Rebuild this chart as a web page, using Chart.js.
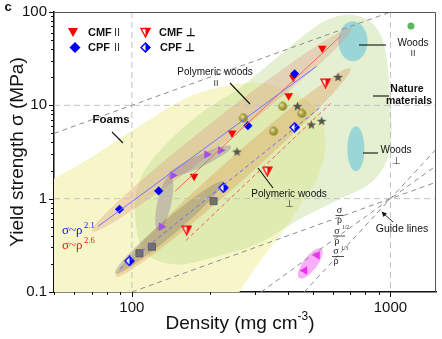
<!DOCTYPE html>
<html>
<head>
<meta charset="utf-8">
<script src="https://cdn.jsdelivr.net/npm/chart.js@4.4.0/dist/chart.umd.min.js"></script>
<style>
  html, body { margin: 0; padding: 0; background: #fff; }
</style>
</head>
<body>
<canvas id="chart" width="442" height="339"></canvas>
<script>
const SANS = 'Arial, "Liberation Sans", sans-serif';
const SERIF = '"Times New Roman", "Liberation Serif", serif';

// axis ticks that carry a label
let xTickLabels = [100, 1000];
let yTickLabels = [0.1, 1, 10, 100];

// density (mg cm-3) and yield strength (MPa)
let cmfParDensity = [174, 244, 404, 421, 545];
let cmfParStrength = [1.74, 5.06, 12.7, 19.9, 41];
let cpfParDensity = [89.6, 127, 281, 426];
let cpfParStrength = [0.77, 1.21, 6.06, 21.8];
let cmfPerpDensity = [163, 334, 561];
let cmfPerpStrength = [0.46, 1.97, 17.3];
let cpfPerpDensity = [97.9, 226, 426];
let cpfPerpStrength = [0.215, 1.31, 5.82];
let purpleDensity = [130, 144, 195, 220];
let purpleStrength = [0.5, 1.77, 2.97, 3.3];
let squareDensity = [107, 119.6, 207];
let squareStrength = [0.26, 0.305, 0.94];
let sphereDensity = [270, 353, 383, 454];
let sphereStrength = [7.3, 5.27, 9.75, 8.2];
let starDensity = [255, 437, 494, 542, 627];
let starStrength = [3.16, 9.7, 6.15, 6.74, 19.9];
let woodDensity = [1200];
let woodStrength = [71];
let magentaDensity = [466, 521];
let magentaStrength = [0.17, 0.247];

// fitted trends
let fitCpfParDensity = [74, 518];
let fitCpfParStrength = [0.505, 26.2];
let fitCmfParDensity = [147, 641];
let fitCmfParStrength = [1.2, 55];
let fitCpfPerpDensity = [90, 530];
let fitCpfPerpStrength = [0.178, 9.3];
let fitCmfPerpDensity = [162, 587];
let fitCmfPerpStrength = [0.357, 10.5];

// guide lines (sigma/rho, sigma^1/2/rho, sigma^1/3/rho and the upper one)
let guideDensity = [[50, 1000], [100, 1500], [316, 1500], [464, 1500]];
let guideStrength = [[5, 100], [0.1, 1.5], [0.1, 2.25], [0.1, 3.375]];

// material families, outlines
let foamsDensity = [30.6, 49.5, 70.8, 99.4, 162, 238, 317, 425, 517, 560, 526, 465, 399, 317, 260, 218, 74.7, 30.6];
let foamsStrength = [0.77, 1.61, 2.84, 5.26, 11.9, 16.4, 17.2, 13.4, 9.06, 4.11, 1.73, 1.01, 0.518, 0.223, 0.099, 0.038, 0.0068, 0.023];
let natureDensity = [145.8, 111.6, 103, 106.7, 127.5, 182.2, 260, 365, 555, 759, 931, 1000, 991, 851, 635, 445, 303, 199];
let natureStrength = [0.198, 0.272, 0.645, 1.53, 3.21, 8.01, 15.2, 32.7, 79.4, 89.9, 51, 11.0, 3.21, 1.53, 0.983, 0.6, 0.324, 0.229];

// ellipses: centre, tip of long axis, tip of short axis
let woodsParEllipse = [[716, 48.5], [716, 79.4], [815, 48.5]];
let woodsPerpEllipse = [[735, 3.42], [735, 5.96], [793, 3.42]];
let magentaEllipse = [[490, 0.2025], [541, 0.29], [515, 0.1826]];
let parBand = [[222.7, 5.46], [706, 66.8], [238, 4.33]];
let perpBand = [[246.6, 1.913], [700, 24.9], [265, 1.532]];
let greyBand = [[139.4, 0.4925], [225.7, 1.532], [146, 0.4236]];
let purpleStem = [[133.4, 0.89], [140.7, 1.734], [141.7, 0.858]];
let purpleArm = [[182.2, 2.51], [242.3, 3.64], [186.5, 2.2]];

function pts(xs, ys) {
    return xs.map((x, i) => ({ x: x, y: ys[i] }));
}

function icon(size, draw) {
    let c = document.createElement('canvas');
    c.width = size;
    c.height = size;
    draw(c.getContext('2d'), size);
    return c;
}

const cmfPerpIcon = icon(11, (g, s) => {
    g.beginPath();
    g.moveTo(1, 1.5); g.lineTo(s - 1, 1.5); g.lineTo(s / 2, s - 1); g.closePath();
    g.fillStyle = '#fff'; g.fill();
    g.save(); g.clip(); g.fillStyle = '#ff0000'; g.fillRect(s / 2, 0, s / 2, s); g.restore();
    g.strokeStyle = '#ff0000'; g.lineWidth = 1.3; g.stroke();
});
const cpfPerpIcon = icon(11, (g, s) => {
    let m = s / 2, r = s / 2 - 1;
    g.beginPath();
    g.moveTo(m, m - r); g.lineTo(m + r, m); g.lineTo(m, m + r); g.lineTo(m - r, m); g.closePath();
    g.fillStyle = '#fff'; g.fill();
    g.save(); g.clip(); g.fillStyle = '#0000ff'; g.fillRect(m, 0, m, s); g.restore();
    g.strokeStyle = '#0000ff'; g.lineWidth = 1.4; g.stroke();
});
const starIcon = icon(11, (g, s) => {
    let m = s / 2, R = s / 2 - 0.5, r = R * 0.42;
    g.beginPath();
    for (let k = 0; k < 10; k++) {
        let ang = -Math.PI / 2 + k * Math.PI / 5;
        let rr = k % 2 ? r : R;
        g.lineTo(m + rr * Math.cos(ang), m + rr * Math.sin(ang));
    }
    g.closePath();
    g.fillStyle = '#55554a'; g.fill();
});
const sphereIcon = icon(10, (g, s) => {
    let grad = g.createRadialGradient(3.6, 3.4, 0.5, 5, 5, 5);
    grad.addColorStop(0, '#e4e0a6');
    grad.addColorStop(0.45, '#aba43e');
    grad.addColorStop(1, '#7d7722');
    g.beginPath(); g.arc(5, 5, 4.4, 0, Math.PI * 2);
    g.fillStyle = grad; g.fill();
});

function px(chart, p) {
    return [chart.scales.x.getPixelForValue(p[0]), chart.scales.y.getPixelForValue(p[1])];
}

function fillOutline(chart, xs, ys, color) {
    let ctx = chart.ctx;
    let p = xs.map((x, i) => px(chart, [x, ys[i]]));
    let n = p.length;
    ctx.beginPath();
    ctx.moveTo(p[0][0], p[0][1]);
    for (let i = 0; i < n; i++) {
        let p0 = p[(i - 1 + n) % n], p1 = p[i], p2 = p[(i + 1) % n], p3 = p[(i + 2) % n];
        ctx.bezierCurveTo(p1[0] + (p2[0] - p0[0]) / 6, p1[1] + (p2[1] - p0[1]) / 6,
                          p2[0] - (p3[0] - p1[0]) / 6, p2[1] - (p3[1] - p1[1]) / 6, p2[0], p2[1]);
    }
    ctx.closePath();
    ctx.fillStyle = color;
    ctx.fill();
}

function fillEllipse(chart, e, color) {
    let ctx = chart.ctx;
    let c = px(chart, e[0]), a = px(chart, e[1]), b = px(chart, e[2]);
    ctx.save();
    ctx.beginPath();
    ctx.transform(a[0] - c[0], a[1] - c[1], b[0] - c[0], b[1] - c[1], c[0], c[1]);
    ctx.arc(0, 0, 1, 0, Math.PI * 2);
    ctx.restore();
    ctx.fillStyle = color;
    ctx.fill();
}

function text(ctx, str, x, y, font, align, color) {
    ctx.font = font;
    ctx.textAlign = align || 'center';
    ctx.textBaseline = 'middle';
    ctx.fillStyle = color || '#111';
    ctx.fillText(str, x, y);
}

function line(ctx, x1, y1, x2, y2) {
    ctx.beginPath();
    ctx.moveTo(x1, y1);
    ctx.lineTo(x2, y2);
    ctx.stroke();
}

function frac(ctx, x, y, sup) {
    text(ctx, 'σ', x, y - 5, '10px ' + SERIF, 'center', '#222');
    if (sup) text(ctx, sup, x + 5, y - 8, '5.5px ' + SERIF, 'left', '#222');
    ctx.strokeStyle = '#222';
    ctx.lineWidth = 0.8;
    line(ctx, x - 4, y, x + (sup ? 8 : 4), y);
    text(ctx, 'ρ', x, y + 5, '10px ' + SERIF, 'center', '#222');
}

function isNice(v) {
    let s = v / Math.pow(10, Math.floor(Math.log10(v) + 1e-9));
    return Math.abs(s - Math.round(s)) < 1e-6;
}

const backdrop = {
    id: 'backdrop',
    beforeDatasetsDraw(chart) {
        let ctx = chart.ctx, a = chart.chartArea;
        ctx.save();
        ctx.beginPath();
        ctx.rect(a.left, a.top, a.right - a.left, a.bottom - a.top);
        ctx.clip();
        fillOutline(chart, foamsDensity, foamsStrength, '#f7f6c8');
        fillOutline(chart, natureDensity, natureStrength, 'rgba(190,220,145,0.42)');
        fillEllipse(chart, woodsParEllipse, 'rgba(135,208,215,0.8)');
        fillEllipse(chart, woodsPerpEllipse, 'rgba(135,208,215,0.8)');
        fillEllipse(chart, parBand, 'rgba(225,140,120,0.3)');
        fillEllipse(chart, perpBand, 'rgba(225,145,80,0.33)');
        fillEllipse(chart, greyBand, 'rgba(110,110,110,0.3)');
        fillEllipse(chart, purpleStem, 'rgba(140,105,150,0.35)');
        fillEllipse(chart, purpleArm, 'rgba(140,105,150,0.35)');
        fillEllipse(chart, magentaEllipse, 'rgba(245,120,245,0.6)');

        // dashed reference grid
        ctx.strokeStyle = '#c2c2c2';
        ctx.lineWidth = 1;
        ctx.setLineDash([6, 4]);
        xTickLabels.forEach(v => {
            let x = chart.scales.x.getPixelForValue(v);
            line(ctx, x, a.top, x, a.bottom);
        });
        yTickLabels.forEach(v => {
            let y = chart.scales.y.getPixelForValue(v);
            if (y > a.top + 1 && y < a.bottom - 1) line(ctx, a.left, y, a.right, y);
        });
        ctx.restore();
    },
    afterDraw(chart) {
        let ctx = chart.ctx, a = chart.chartArea;
        let sx = chart.scales.x, sy = chart.scales.y;
        ctx.save();

        // top and right frame
        ctx.strokeStyle = '#555';
        ctx.lineWidth = 1;
        ctx.beginPath();
        ctx.moveTo(a.left, a.top + 0.5);
        ctx.lineTo(a.right - 0.5, a.top + 0.5);
        ctx.lineTo(a.right - 0.5, a.bottom);
        ctx.stroke();

        // tick marks, longer at the decades
        ctx.strokeStyle = '#111';
        ctx.lineWidth = 1;
        sx.ticks.forEach(t => {
            if (!isNice(t.value)) return;
            let x = Math.round(sx.getPixelForValue(t.value)) + 0.5;
            let len = xTickLabels.includes(t.value) ? 5 : 3;
            line(ctx, x, a.bottom, x, a.bottom + len);
        });
        sy.ticks.forEach(t => {
            if (!isNice(t.value)) return;
            let y = Math.round(sy.getPixelForValue(t.value)) + 0.5;
            let len = yTickLabels.includes(t.value) ? 5 : 3;
            line(ctx, a.left, y, a.left - len, y);
        });

        // axis titles
        ctx.save();
        ctx.translate(18, (a.top + a.bottom) / 2);
        ctx.rotate(-Math.PI / 2);
        text(ctx, 'Yield strength σ (MPa)', 0, 0, '19px ' + SANS, 'center', '#111');
        ctx.restore();
        ctx.font = '19px ' + SANS;
        let w1 = ctx.measureText('Density (mg cm').width;
        ctx.font = '12px ' + SANS;
        let w2 = ctx.measureText('-3').width;
        ctx.font = '19px ' + SANS;
        let w3 = ctx.measureText(')').width;
        let x0 = 240 - (w1 + w2 + w3) / 2;
        text(ctx, 'Density (mg cm', x0, 324, '19px ' + SANS, 'left', '#111');
        text(ctx, '-3', x0 + w1, 317, '12px ' + SANS, 'left', '#111');
        text(ctx, ')', x0 + w1 + w2, 324, '19px ' + SANS, 'left', '#111');

        text(ctx, 'c', 8, 7, 'bold 13px ' + SANS, 'center', '#111');

        // legend
        ctx.fillStyle = '#ff0000';
        ctx.beginPath();
        ctx.moveTo(68, 28); ctx.lineTo(78, 28); ctx.lineTo(73, 37); ctx.closePath(); ctx.fill();
        ctx.fillStyle = '#0000ff';
        ctx.beginPath();
        ctx.moveTo(75, 42); ctx.lineTo(80.5, 47.5); ctx.lineTo(75, 53); ctx.lineTo(69.5, 47.5); ctx.closePath(); ctx.fill();
        ctx.drawImage(cmfPerpIcon, 140, 27);
        ctx.drawImage(cpfPerpIcon, 140, 42);
        text(ctx, 'CMF', 88, 33, 'bold 11px ' + SANS, 'left', '#111');
        text(ctx, 'II', 114, 33, '11px ' + SANS, 'left', '#333');
        text(ctx, 'CPF', 88, 48, 'bold 11px ' + SANS, 'left', '#111');
        text(ctx, 'II', 114, 48, '11px ' + SANS, 'left', '#333');
        text(ctx, 'CMF ⊥', 159, 33, 'bold 11px ' + SANS, 'left', '#111');
        text(ctx, 'CPF ⊥', 160, 48, 'bold 11px ' + SANS, 'left', '#111');

        // family labels and leaders
        ctx.strokeStyle = '#111';
        ctx.lineWidth = 1.1;
        text(ctx, 'Foams', 111, 120, 'bold 11.5px ' + SANS);
        line(ctx, 112, 132, 123, 143);
        text(ctx, 'Polymeric woods', 215, 72.5, '10px ' + SANS);
        text(ctx, 'II', 216, 84, '9px ' + SANS, 'center', '#333');
        line(ctx, 230, 83, 250, 104);
        text(ctx, 'Polymeric woods', 289, 194, '10px ' + SANS);
        text(ctx, '⊥', 289, 204, '10px ' + SANS, 'center', '#333');
        line(ctx, 258, 168, 273, 188);
        text(ctx, 'Woods', 413, 43, '10px ' + SANS);
        text(ctx, 'II', 413, 54, '9px ' + SANS, 'center', '#333');
        line(ctx, 359, 45, 386, 45);
        text(ctx, 'Nature', 407, 89, 'bold 10.5px ' + SANS);
        text(ctx, 'materials', 409, 101, 'bold 10.5px ' + SANS);
        line(ctx, 373, 96, 389, 96);
        text(ctx, 'Woods', 396, 150, '10px ' + SANS);
        text(ctx, '⊥', 396, 161, '10px ' + SANS, 'center', '#333');
        line(ctx, 363, 153, 378, 153);
        text(ctx, 'Guide lines', 402, 229, '10.5px ' + SANS);
        ctx.lineWidth = 0.9;
        line(ctx, 393, 222, 383, 213);
        ctx.fillStyle = '#111';
        ctx.beginPath();
        ctx.moveTo(381.5, 211.5); ctx.lineTo(387, 213.5); ctx.lineTo(383.5, 217); ctx.closePath(); ctx.fill();

        // guide line fractions
        frac(ctx, 339.5, 215.5, '');
        frac(ctx, 337, 236, '1/2');
        frac(ctx, 336, 256.5, '1/3');

        // scaling laws
        text(ctx, 'σ~ρ', 62, 231, '13px ' + SERIF, 'left', '#1010ff');
        text(ctx, '2.1', 84, 226, '8.5px ' + SERIF, 'left', '#1010ff');
        text(ctx, 'σ~ρ', 62, 246, '13px ' + SERIF, 'left', '#ff1010');
        text(ctx, '2.6', 84, 241, '8.5px ' + SERIF, 'left', '#ff1010');

        ctx.restore();
    }
};

function guideSet(i) {
    return {
        data: pts(guideDensity[i], guideStrength[i]),
        showLine: true,
        borderColor: '#8c8c8c',
        borderWidth: 1,
        borderDash: [5, 4],
        pointRadius: 0
    };
}

function fitSet(xs, ys, color, dash) {
    return {
        data: pts(xs, ys),
        showLine: true,
        borderColor: color,
        borderWidth: 1,
        borderDash: dash || [],
        pointRadius: 0
    };
}

function markerSet(xs, ys, style, color, radius, rotation) {
    return {
        data: pts(xs, ys),
        pointStyle: style,
        pointRadius: radius,
        pointRotation: rotation || 0,
        pointBackgroundColor: color,
        pointBorderColor: color,
        pointBorderWidth: 0,
        showLine: false
    };
}

let ctx = document.getElementById('chart').getContext('2d');

let chart = new Chart(ctx, {
    type: 'scatter',
    data: {
        datasets: [
            guideSet(0), guideSet(1), guideSet(2), guideSet(3),
            fitSet(fitCpfParDensity, fitCpfParStrength, '#7474ff'),
            fitSet(fitCmfParDensity, fitCmfParStrength, '#ff6464'),
            fitSet(fitCpfPerpDensity, fitCpfPerpStrength, '#6c6cff', [4, 3]),
            fitSet(fitCmfPerpDensity, fitCmfPerpStrength, '#ff5a5a', [4, 3]),
            markerSet(sphereDensity, sphereStrength, sphereIcon, '#a29c36', 4),
            markerSet(starDensity, starStrength, starIcon, '#55554a', 5),
            Object.assign(markerSet(squareDensity, squareStrength, 'rect', '#707070', 5), { pointBorderColor: '#555', pointBorderWidth: 0.8 }),
            markerSet(purpleDensity, purpleStrength, 'triangle', '#a050e6', 5, 90),
            markerSet(magentaDensity, magentaStrength, 'triangle', '#ee30ee', 5, 270),
            markerSet(woodDensity, woodStrength, 'circle', '#5cb85c', 3.5),
            markerSet(cpfPerpDensity, cpfPerpStrength, cpfPerpIcon, '#0000ff', 5),
            markerSet(cmfPerpDensity, cmfPerpStrength, cmfPerpIcon, '#ff0000', 5),
            markerSet(cpfParDensity, cpfParStrength, 'rectRot', '#0000ff', 4.6),
            markerSet(cmfParDensity, cmfParStrength, 'triangle', '#ff0000', 5, 180)
        ]
    },
    options: {
        responsive: false,
        devicePixelRatio: 1,
        animation: false,
        events: [],
        layout: {
            padding: { left: 0, right: 6, top: 12, bottom: 0 }
        },
        plugins: {
            legend: { display: false },
            tooltip: { enabled: false }
        },
        scales: {
            x: {
                type: 'logarithmic',
                min: 50,
                max: 1500,
                afterFit: s => { s.height = 47; },
                grid: { drawOnChartArea: false, drawTicks: true, tickLength: 5, color: 'rgba(0,0,0,0)' },
                border: { display: true, color: '#111', width: 1.5 },
                ticks: {
                    autoSkip: false,
                    maxRotation: 0,
                    padding: 2,
                    color: '#111',
                    font: { size: 15, family: SANS },
                    callback: v => xTickLabels.includes(v) ? String(v) : ''
                }
            },
            y: {
                type: 'logarithmic',
                min: 0.1,
                max: 100,
                afterFit: s => { s.width = 54; },
                grid: { drawOnChartArea: false, drawTicks: true, tickLength: 5, color: 'rgba(0,0,0,0)' },
                border: { display: true, color: '#111', width: 1.5 },
                ticks: {
                    autoSkip: false,
                    padding: 2,
                    color: '#111',
                    font: { size: 15, family: SANS },
                    callback: v => yTickLabels.includes(v) ? String(v) : ''
                }
            }
        }
    },
    plugins: [backdrop]
});
</script>
</body>
</html>
